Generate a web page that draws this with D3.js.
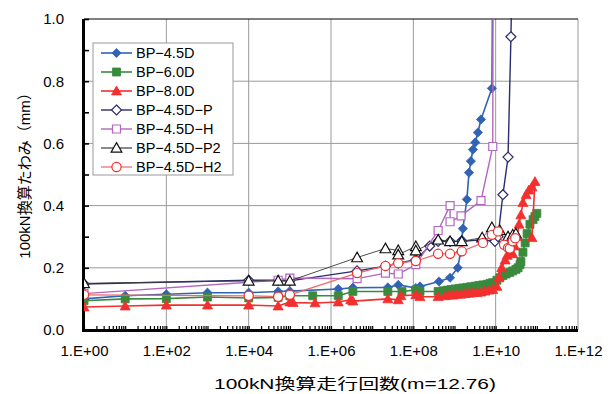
<!DOCTYPE html>
<html>
<head>
<meta charset="utf-8">
<script src="https://cdn.jsdelivr.net/npm/d3@7"></script>
<style>
  html, body { margin: 0; padding: 0; background: #fff; }
  svg { display: block; }
</style>
</head>
<body>
<svg id="chart" width="616" height="394"></svg>
<script>
// ---- data: 100kN-equivalent passes (x) and deflection in mm (y) ----
const xTickValues = [1, 1e2, 1e4, 1e6, 1e8, 1e10, 1e12];
const xTickLabels = ["1.E+00", "1.E+02", "1.E+04", "1.E+06", "1.E+08", "1.E+10", "1.E+12"];
const yTickValues = [0, 0.2, 0.4, 0.6, 0.8, 1.0];
const yTickLabels = ["0.0", "0.2", "0.4", "0.6", "0.8", "1.0"];

const seriesNames = ["BP-4.5D", "BP-6.0D", "BP-8.0D", "BP-4.5D-P", "BP-4.5D-H", "BP-4.5D-P2", "BP-4.5D-H2"];

const bp45dX = [1, 1e1, 1e2, 1e3, 1e4, 5.2e4, 1e5, 1.5e6, 3.4e6, 2.4e7, 4.3e7, 1.15e8, 1.45e8, 4.2e8, 7.8e8, 1.2e9, 1.4e9, 1.5e9, 1.6e9, 2e9, 2.25e9, 2.5e9, 2.8e9, 3.2e9, 3.7e9, 4.4e9, 8.1e9, 8.6e9];
const bp45dY = [0.10, 0.11, 0.115, 0.12, 0.12, 0.124, 0.125, 0.132, 0.136, 0.137, 0.145, 0.135, 0.14, 0.156, 0.168, 0.2, 0.25, 0.29, 0.326, 0.42, 0.506, 0.543, 0.58, 0.603, 0.635, 0.677, 0.777, 1.3];

const bp60dX = [1, 1e1, 1e2, 1e3, 1e4, 5.2e4, 1e5, 3.6e5, 1.5e6, 3.4e6, 2.4e7, 5.3e7, 1.15e8, 1.45e8, 4e8, 5.3e8, 6.6e8, 8.2e8, 1.03e9, 1.3e9, 1.6e9, 2e9, 2.5e9, 3.2e9, 3.9e9, 4.9e9, 6.2e9, 7.3e9, 8.5e9, 1.07e10, 1.26e10, 1.5e10, 1.8e10, 2.2e10, 2.6e10, 3.1e10, 3.5e10, 3.9e10, 4.1e10, 4.6e10, 5.2e10, 5.8e10, 6.8e10, 8.1e10, 9e10, 1e11];
const bp60dY = [0.094, 0.10, 0.101, 0.106, 0.103, 0.105, 0.11, 0.11, 0.11, 0.124, 0.124, 0.124, 0.129, 0.124, 0.124, 0.126, 0.128, 0.13, 0.132, 0.134, 0.135, 0.137, 0.139, 0.141, 0.143, 0.145, 0.147, 0.15, 0.152, 0.16, 0.168, 0.175, 0.18, 0.185, 0.19, 0.195, 0.2, 0.21, 0.22, 0.25, 0.28, 0.31, 0.34, 0.355, 0.365, 0.375];

const bp80dX = [1, 1e1, 1e2, 1e3, 1e4, 5.2e4, 1e5, 1.2e5, 4.1e5, 1.5e6, 3e6, 3.4e6, 2.4e7, 4.3e7, 5e7, 1.15e8, 1.45e8, 4e8, 5.9e8, 7.4e8, 9.2e8, 1.15e9, 1.44e9, 1.8e9, 2.25e9, 2.8e9, 3.5e9, 4.4e9, 5.5e9, 6.9e9, 8.5e9, 1.07e10, 1.2e10, 1.4e10, 1.7e10, 1.9e10, 2.2e10, 2.6e10, 2.9e10, 3.3e10, 3.7e10, 4.1e10, 4.6e10, 5.5e10, 6.4e10, 7.6e10, 9e10, 7.6e10];
const bp80dY = [0.074, 0.077, 0.08, 0.08, 0.08, 0.077, 0.09, 0.088, 0.087, 0.09, 0.097, 0.093, 0.1, 0.097, 0.11, 0.113, 0.107, 0.107, 0.11, 0.112, 0.112, 0.115, 0.115, 0.117, 0.118, 0.12, 0.12, 0.122, 0.125, 0.128, 0.13, 0.14, 0.17, 0.2, 0.225, 0.24, 0.25, 0.245, 0.27, 0.3, 0.34, 0.37, 0.41, 0.435, 0.45, 0.46, 0.477, 0.297];

const bp45dPX = [1, 1e4, 5.2e4, 1e5, 4.3e6, 2.1e7, 4.3e7, 1.15e8, 2.5e8, 4e8, 7.8e8, 1.5e9, 4.7e9, 9.6e9, 1.14e10, 1.5e10, 2e10, 2.35e10, 2.6e10];
const bp45dPY = [0.148, 0.16, 0.16, 0.158, 0.19, 0.205, 0.215, 0.226, 0.27, 0.285, 0.285, 0.285, 0.29, 0.285, 0.3, 0.435, 0.556, 0.943, 1.3];

const bp45dHX = [1, 5.2e4, 1e5, 4.3e6, 2.1e7, 4.3e7, 1.15e8, 4e8, 7.8e8, 7.8e8, 1.44e9, 4.4e9, 8.5e9, 8.7e9];
const bp45dHY = [0.117, 0.16, 0.167, 0.165, 0.183, 0.18, 0.21, 0.32, 0.40, 0.348, 0.367, 0.416, 0.59, 1.3];

const bp45dP2X = [1, 1e4, 5.2e4, 1e5, 4.3e6, 2.1e7, 4.3e7, 4.3e7, 1.15e8, 1.15e8, 4e8, 7.8e8, 1.5e9, 4.7e9, 8.1e9, 1.26e10, 2e10, 2.6e10, 3.1e10];
const bp45dP2Y = [0.15, 0.158, 0.158, 0.158, 0.233, 0.262, 0.256, 0.242, 0.269, 0.255, 0.29, 0.285, 0.285, 0.297, 0.33, 0.32, 0.3, 0.306, 0.31];

const bp45dH2X = [1, 1e4, 5.2e4, 1e5, 4.3e6, 2.1e7, 4.3e7, 1.15e8, 4e8, 7.8e8, 1.5e9, 4.9e9, 8.1e9, 1.14e10, 1.6e10, 2e10, 2.2e10, 2.6e10, 3e10];
const bp45dH2Y = [0.113, 0.11, 0.107, 0.113, 0.183, 0.206, 0.215, 0.222, 0.245, 0.245, 0.253, 0.28, 0.306, 0.317, 0.274, 0.264, 0.262, 0.285, 0.295];

// ---- styles per series ----
const styles = [
  { xs: bp45dX,   ys: bp45dY,   line: "#3163b5", width: 1.6, shape: "diamond",  fill: "#3163b5", stroke: "#3163b5", r: 4.6 },
  { xs: bp60dX,   ys: bp60dY,   line: "#3a8a3e", width: 1.6, shape: "square",   fill: "#3a8a3e", stroke: "#3a8a3e", r: 4.0 },
  { xs: bp80dX,   ys: bp80dY,   line: "#f2302e", width: 1.6, shape: "triangle", fill: "#f2302e", stroke: "#f2302e", r: 5.0 },
  { xs: bp45dPX,  ys: bp45dPY,  line: "#2b2c6e", width: 1.4, shape: "diamond",  fill: "#ffffff", stroke: "#2b2c6e", r: 5.0 },
  { xs: bp45dHX,  ys: bp45dHY,  line: "#b466c0", width: 1.4, shape: "square",   fill: "#ffffff", stroke: "#b466c0", r: 4.0 },
  { xs: bp45dP2X, ys: bp45dP2Y, line: "#3a3a3a", width: 0.9, shape: "triangle", fill: "#ffffff", stroke: "#111111", r: 5.4 },
  { xs: bp45dH2X, ys: bp45dH2Y, line: "#f06666", width: 1.2, shape: "circle",   fill: "#ffffff", stroke: "#f2302e", r: 4.6 }
];

// ---- layout ----
const plot = { left: 84, right: 578, top: 19, bottom: 330 };

const svg = d3.select("#chart");
const x = d3.scaleLog().domain([1, 1e12]).range([plot.left, plot.right]);
const y = d3.scaleLinear().domain([0, 1]).range([plot.bottom, plot.top]);

const latin = "'Liberation Sans', Arial, sans-serif";
const cjk = "'Liberation Sans', 'Noto Sans CJK JP', sans-serif";

// clip for the data area
svg.append("defs").append("clipPath").attr("id", "plotClip")
  .append("rect")
  .attr("x", plot.left).attr("y", plot.top - 1)
  .attr("width", plot.right - plot.left + 1).attr("height", plot.bottom - plot.top + 1);

// gridlines
const grid = svg.append("g");
grid.selectAll("line.gx").data(xTickValues.slice(1)).join("line")
  .attr("x1", d => x(d)).attr("x2", d => x(d))
  .attr("y1", plot.top).attr("y2", plot.bottom)
  .attr("stroke", "#9a9a9a").attr("stroke-width", 1);
grid.selectAll("line.gy").data(yTickValues.slice(1, -1)).join("line")
  .attr("x1", plot.left).attr("x2", plot.right)
  .attr("y1", d => y(d)).attr("y2", d => y(d))
  .attr("stroke", "#9a9a9a").attr("stroke-width", 1);
// top border
svg.append("line")
  .attr("x1", plot.left).attr("x2", plot.right)
  .attr("y1", y(1)).attr("y2", y(1))
  .attr("stroke", "#000").attr("stroke-width", 1.2);

// x axis with inside log minor ticks
const minorX = [];
for (let e = 0; e < 12; e++) for (let k = 1; k <= 9; k++) minorX.push(k * Math.pow(10, e));
const xAxis = d3.axisBottom(x).tickValues(minorX).tickSize(-4).tickFormat("");
const gx = svg.append("g").attr("transform", `translate(0,${plot.bottom})`).call(xAxis);
gx.select(".domain").remove();
gx.selectAll(".tick line").attr("stroke", "#000").attr("stroke-width", 1.2);
svg.append("line")
  .attr("x1", plot.left - 1.5).attr("x2", plot.right)
  .attr("y1", plot.bottom + 0.5).attr("y2", plot.bottom + 0.5)
  .attr("stroke", "#000").attr("stroke-width", 3);

const xLab = d3.axisBottom(x).tickValues(xTickValues).tickSize(0)
  .tickFormat((d, i) => xTickLabels[i]);
const gxl = svg.append("g").attr("transform", `translate(0,${plot.bottom + 12})`).call(xLab);
gxl.select(".domain").remove();
gxl.selectAll("text").attr("font-family", latin).attr("font-size", 15).attr("fill", "#000");

// y axis with inside ticks every 0.1
const yAxis = d3.axisLeft(y).tickValues(d3.range(0, 11).map(i => i / 10)).tickSize(-5).tickFormat("");
const gy = svg.append("g").attr("transform", `translate(${plot.left},0)`).call(yAxis);
gy.select(".domain").remove();
gy.selectAll(".tick line").attr("stroke", "#000").attr("stroke-width", 1.6);
svg.append("line")
  .attr("x1", plot.left - 0.5).attr("x2", plot.left - 0.5)
  .attr("y1", plot.top).attr("y2", plot.bottom + 2)
  .attr("stroke", "#000").attr("stroke-width", 3);

const yLab = d3.axisLeft(y).tickValues(yTickValues).tickSize(0)
  .tickFormat((d, i) => yTickLabels[i]);
const gyl = svg.append("g").attr("transform", `translate(${plot.left - 17},0)`).call(yLab);
gyl.select(".domain").remove();
gyl.selectAll("text").attr("font-family", latin).attr("font-size", 15).attr("fill", "#000");

// axis titles
svg.append("text")
  .attr("x", 214).attr("y", 389)
  .attr("text-anchor", "start")
  .attr("textLength", 282).attr("lengthAdjust", "spacingAndGlyphs")
  .attr("font-family", cjk).attr("font-size", 15).attr("fill", "#000")
  .text("100kN換算走行回数(m=12.76)");
svg.append("text")
  .attr("transform", "translate(25,172) rotate(-90)")
  .attr("text-anchor", "middle").attr("dy", "0.35em")
  .attr("font-family", cjk).attr("font-size", 15).attr("fill", "#000")
  .text("100kN換算たわみ（mm）");

// marker path builder
function markerPath(shape, r) {
  const p = d3.path();
  if (shape === "diamond") {
    p.moveTo(0, -r); p.lineTo(r, 0); p.lineTo(0, r); p.lineTo(-r, 0); p.closePath();
  } else if (shape === "square") {
    p.rect(-r, -r, 2 * r, 2 * r);
  } else if (shape === "triangle") {
    p.moveTo(0, -r); p.lineTo(r, r * 0.78); p.lineTo(-r, r * 0.78); p.closePath();
  } else {
    p.arc(0, 0, r, 0, 2 * Math.PI);
  }
  return p.toString();
}

// series
const dataG = svg.append("g").attr("clip-path", "url(#plotClip)");
const lineGen = d3.line().x(d => x(d[0])).y(d => y(d[1]));
styles.forEach(s => {
  const pts = s.xs.map((v, i) => [v, s.ys[i]]);
  const g = dataG.append("g");
  g.append("path").datum(pts)
    .attr("d", lineGen).attr("fill", "none")
    .attr("stroke", s.line).attr("stroke-width", s.width)
    .attr("stroke-linejoin", "round");
  g.selectAll("path.m").data(pts).join("path")
    .attr("class", "m")
    .attr("transform", d => `translate(${x(d[0])},${y(d[1])})`)
    .attr("d", markerPath(s.shape, s.r))
    .attr("fill", s.fill).attr("stroke", s.stroke)
    .attr("stroke-width", s.fill === "#ffffff" ? 1.2 : 0.8);
});

// legend
const leg = svg.append("g").attr("transform", "translate(93,43)");
leg.append("rect").attr("x", 0).attr("y", 0).attr("width", 140).attr("height", 132)
  .attr("fill", "#fff").attr("stroke", "#999").attr("stroke-width", 1);
styles.forEach((s, i) => {
  const cy = 10 + i * 19;
  const row = leg.append("g").attr("transform", `translate(0,${cy})`);
  row.append("line").attr("x1", 8).attr("x2", 39).attr("y1", 0).attr("y2", 0)
    .attr("stroke", s.line).attr("stroke-width", Math.max(s.width, 1.2));
  row.append("path").attr("transform", "translate(23.5,0)")
    .attr("d", markerPath(s.shape, s.r))
    .attr("fill", s.fill).attr("stroke", s.stroke)
    .attr("stroke-width", s.fill === "#ffffff" ? 1.2 : 0.8);
  row.append("text").attr("x", 43).attr("y", 0).attr("dy", "0.36em")
    .attr("font-family", latin).attr("font-size", 14.5).attr("fill", "#000")
    .text(seriesNames[i].replace(/-/g, "\u2212"));
});
</script>
</body>
</html>
